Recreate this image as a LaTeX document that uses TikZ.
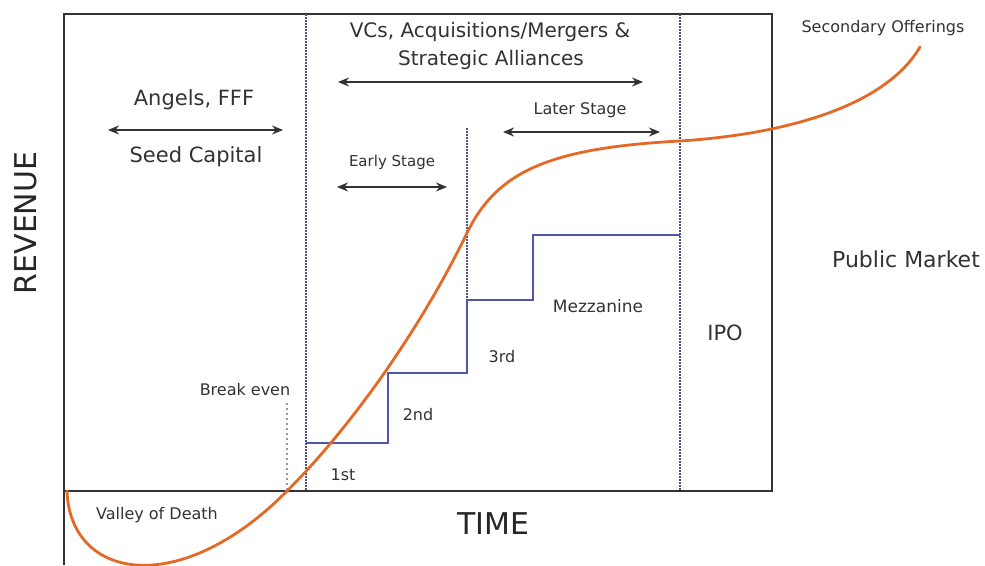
\documentclass[tikz,border=0pt]{standalone}
\usepackage{fontspec}
\setmainfont{DejaVu Sans}
\usepackage{tikz}
\usetikzlibrary{arrows.meta}

\definecolor{courbe}{RGB}{228,104,38}
\definecolor{etapes}{RGB}{78,88,170}
\definecolor{separation}{RGB}{80,82,135}
\definecolor{seuil}{RGB}{140,150,190}
\definecolor{texte}{RGB}{50,50,50}

\begin{document}
\begin{tikzpicture}[x=1pt,y=-1pt,
    lbl/.style={text=texte, inner sep=0pt},
    span/.style={{Stealth[length=11pt,width=9pt]}-{Stealth[length=11pt,width=9pt]}, line width=1.7pt, black!80},
    sep/.style={separation, dash pattern=on 1.5pt off 1.5pt, line width=1.6pt}]
            \useasboundingbox (0,0) rectangle (985,565);

            % Cadre
            \draw[line width=1.8pt, black!80] (64,565) -- (64,14) -- (772,14) -- (772,491) -- (64,491);

            % Separations
            \draw[sep] (306,14) -- (306,491);
            \draw[sep] (680,14) -- (680,491);
            \draw[sep] (467,128) -- (467,300);
            \draw[seuil, dash pattern=on 2pt off 3pt, line width=1.6pt] (287,403) -- (287,490);

            % Tours de financement
            \draw[etapes, line width=1.3pt] (306,443) -| (388,373) -| (467,300) -| (533,235) -- (680,235);

            % Fleches
            \coordinate (vcsL) at (338,82);
            \coordinate (vcsR) at (643,82);
            \coordinate (seedL) at (108,130);
            \coordinate (seedR) at (283,130);
            \coordinate (earlyL) at (337,187);
            \coordinate (earlyR) at (447,187);
            \coordinate (laterL) at (503,132);
            \coordinate (laterR) at (660,132);
            \draw[span] (vcsL) -- (vcsR);
            \draw[span] (seedL) -- (seedR);
            \draw[span] (earlyL) -- (earlyR);
            \draw[span] (laterL) -- (laterR);

            % Axes
            \node[lbl, text=black!85, rotate=90, font=\fontsize{30}{36}\selectfont] (revenue) at (26,223) {REVENUE};
            \node[lbl, text=black!85, font=\fontsize{30}{36}\selectfont] (time) at (493,524) {TIME};

            % Textes
            \node[lbl, font=\fontsize{22}{26}\selectfont] (public) at (906,259) {Public Market};
            \node[lbl, font=\fontsize{16}{19}\selectfont] (secondary) at (883,28) {Secondary Offerings};
            \node[lbl, font=\fontsize{20}{24}\selectfont] (vcs) at (490,32) {VCs, Acquisitions/Mergers \&};
            \node[lbl, font=\fontsize{20}{24}\selectfont] (alliances) at (491,60) {Strategic Alliances};
            \node[lbl, font=\fontsize{21}{25}\selectfont] (angels) at (194,100) {Angels, FFF};
            \node[lbl, font=\fontsize{21}{25}\selectfont] (seed) at (196,157) {Seed Capital};
            \node[lbl, font=\fontsize{15}{18}\selectfont] (early) at (392,162) {Early Stage};
            \node[lbl, font=\fontsize{16}{19}\selectfont] (later) at (580,110) {Later Stage};
            \node[lbl, font=\fontsize{17}{20}\selectfont] (mezz) at (598,306) {Mezzanine};
            \node[lbl, font=\fontsize{21}{25}\selectfont] (ipo) at (725,333) {IPO};
            \node[lbl, font=\fontsize{16}{19}\selectfont] (third) at (502,357) {3rd};
            \node[lbl, font=\fontsize{16}{19}\selectfont] (second) at (418,415) {2nd};
            \node[lbl, font=\fontsize{16}{19}\selectfont] (first) at (343,475) {1st};
            \node[lbl, font=\fontsize{16}{19}\selectfont] (breakeven) at (245,390) {Break even};
            \node[lbl, font=\fontsize{16}{19}\selectfont] (valley) at (157,515) {Valley of Death};

            % Courbe de revenu
            \draw[courbe, line width=2.8pt, line cap=round]
                (67,491) .. controls (70,580) and (180,600) .. (288,490)
                .. controls (350,428) and (420,330) .. (467,233)
                .. controls (497,171) and (550,148) .. (680,141)
                .. controls (760,136) and (880,115) .. (920,47);
        \end{tikzpicture}
\end{document}
